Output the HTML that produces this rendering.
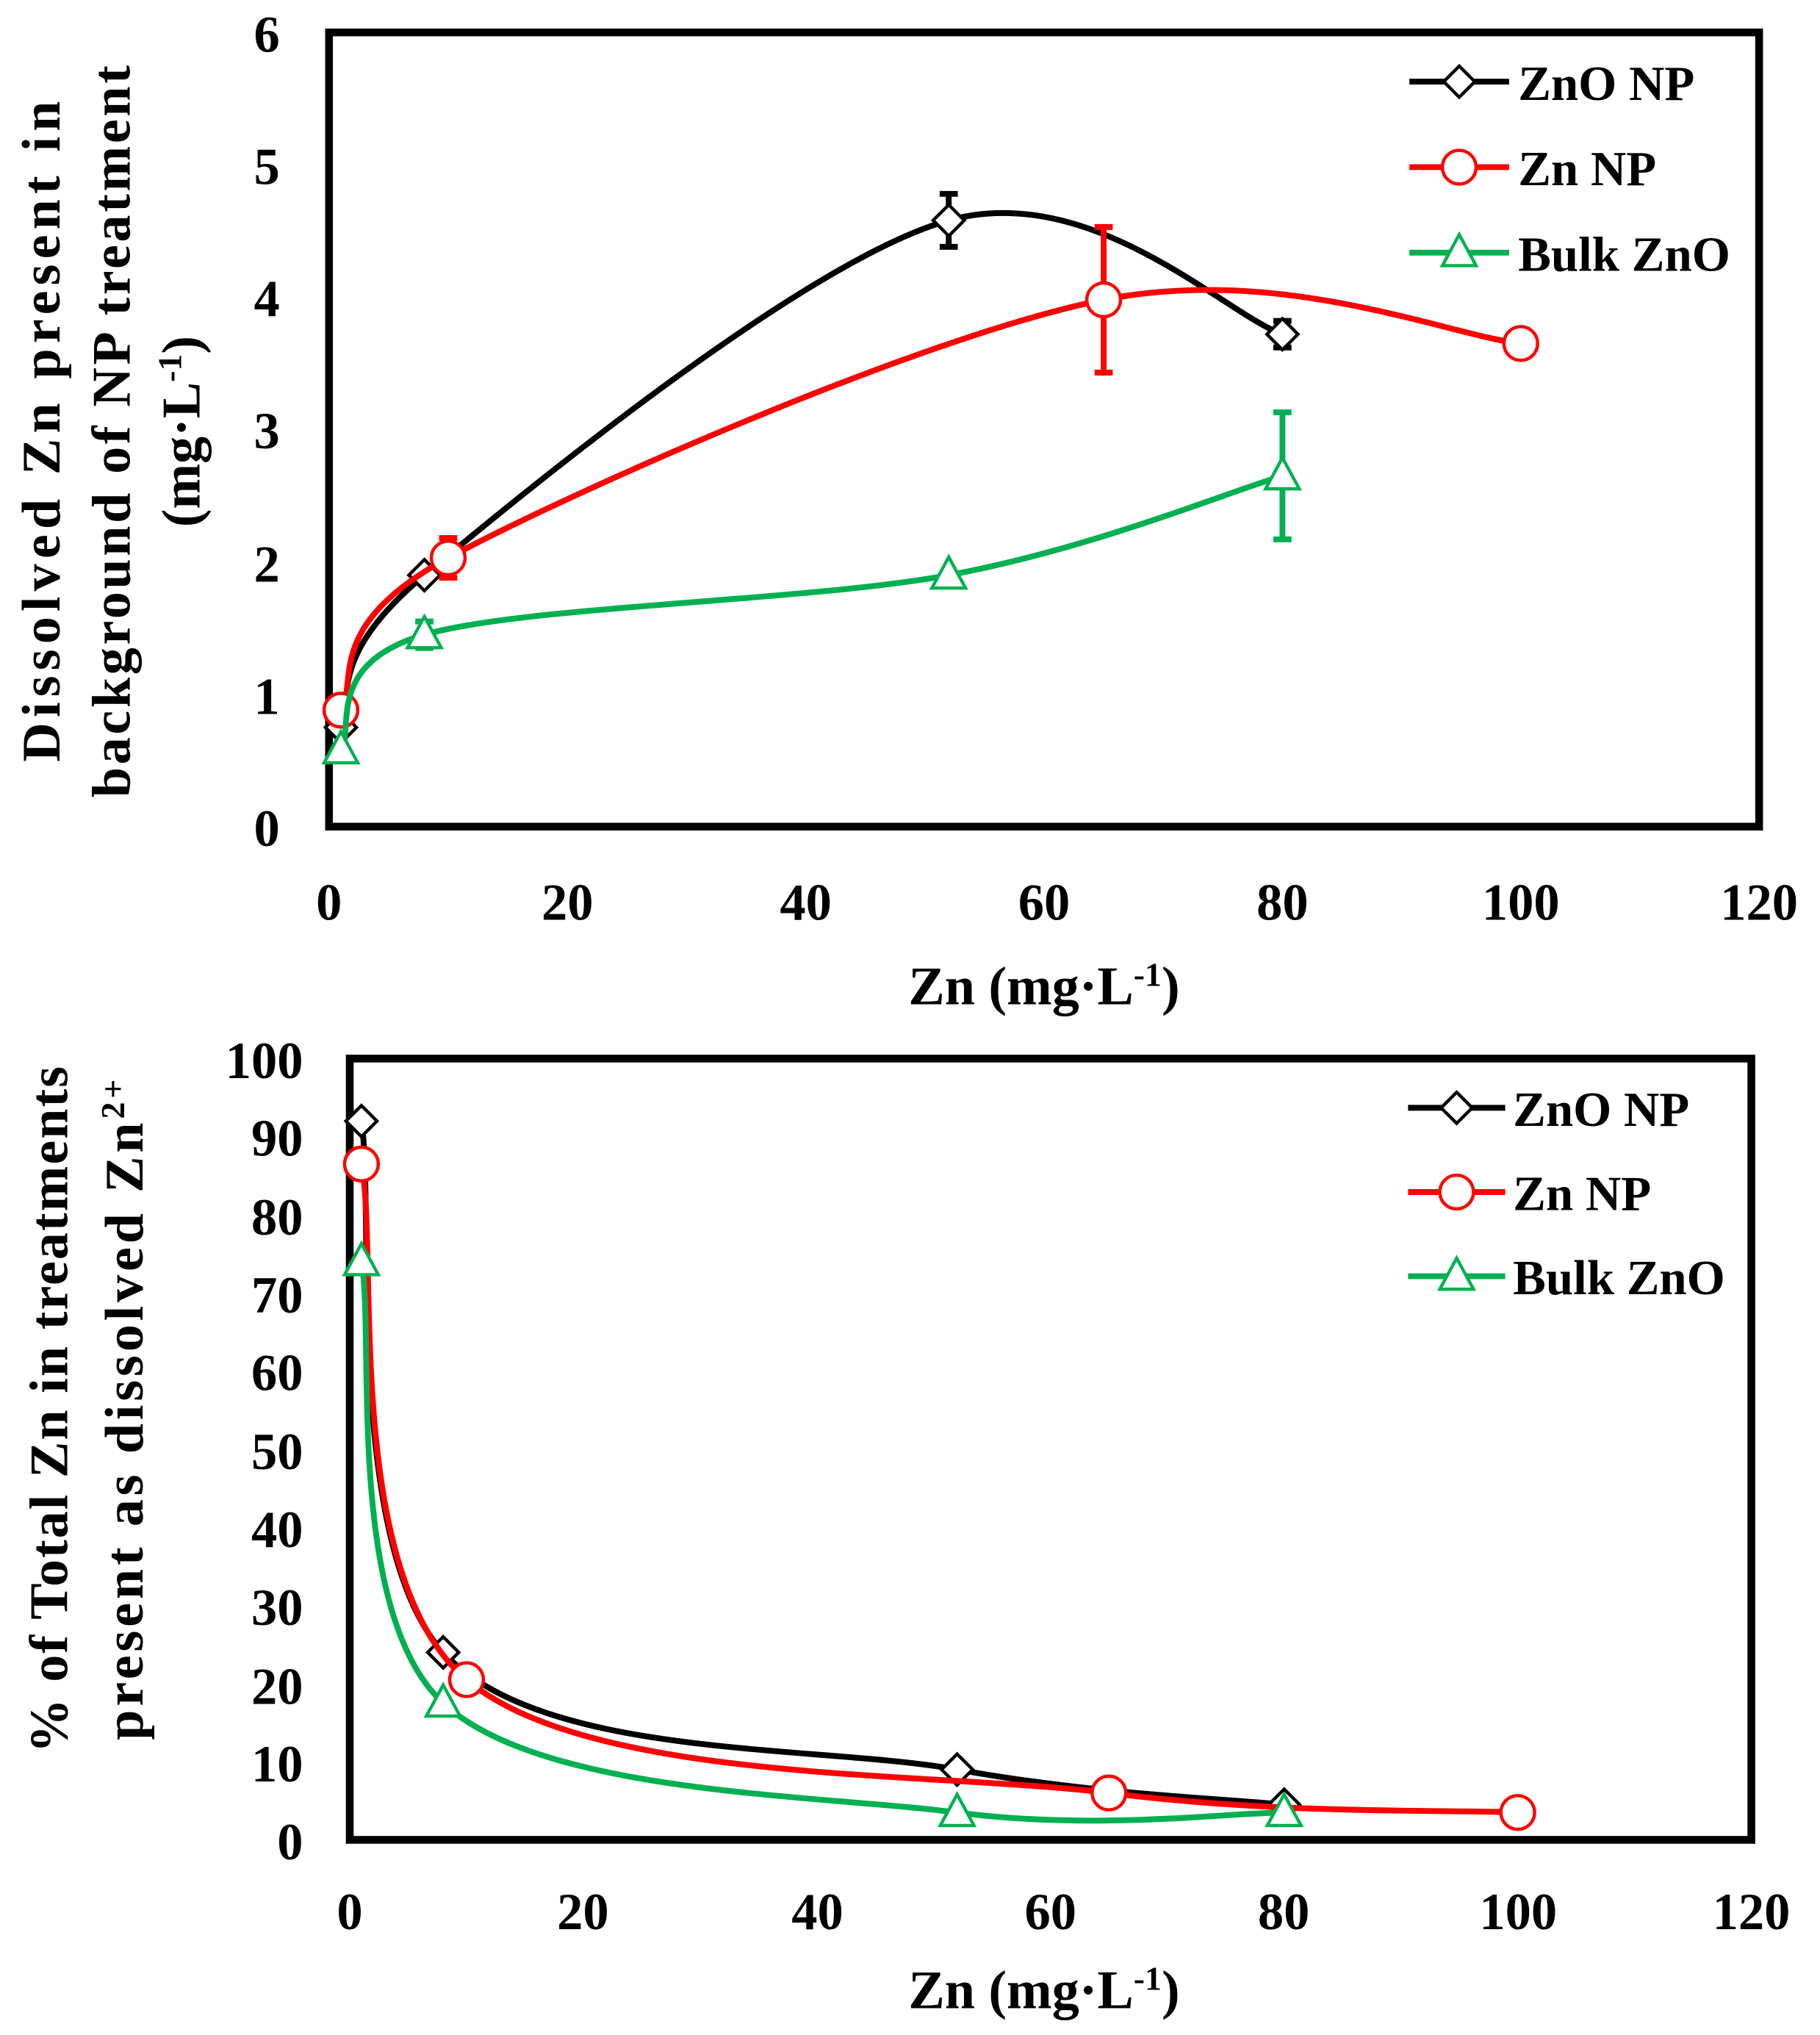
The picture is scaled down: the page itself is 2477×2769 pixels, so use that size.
<!DOCTYPE html>
<html><head><style>
html,body{margin:0;padding:0;background:#fff}
svg{display:block}
text{font-family:"Liberation Serif",serif;font-weight:bold;fill:#000}
</style></head><body>
<svg id="s" width="2477" height="2769" viewBox="0 0 1405 1570.6" xmlns="http://www.w3.org/2000/svg">
<rect x="0" y="0" width="1405" height="1571" fill="#fff"/>
<g id="top"></g><g id="bot"></g>
<g font-size="40" text-anchor="end">
<text x="216" y="653">0</text><text x="216" y="551">1</text><text x="216" y="449">2</text><text x="216" y="346">3</text><text x="216" y="244">4</text><text x="216" y="142">5</text><text x="216" y="40">6</text>
</g>
<g font-size="40" text-anchor="middle">
<text x="254" y="710">0</text><text x="438" y="710">20</text><text x="622" y="710">40</text><text x="806" y="710">60</text><text x="990" y="710">80</text><text x="1174" y="710">100</text><text x="1358" y="710">120</text>
<text x="806" y="775" font-size="42">Zn (mg·L<tspan baseline-shift="super" font-size="26">-1</tspan>)</text>
</g>
<g font-size="42" text-anchor="middle">
<text transform="translate(46,333) rotate(-90)" textLength="510" lengthAdjust="spacing">Dissolved Zn present in</text>
<text transform="translate(100,333) rotate(-90)" textLength="565" lengthAdjust="spacing">background of  NP treatment</text>
<text transform="translate(154,333) rotate(-90)">(mg·L<tspan baseline-shift="super" font-size="26">-1</tspan>)</text>
</g>
<g font-size="38">
<text x="1172" y="77">ZnO NP</text><text x="1172" y="143">Zn NP</text><text x="1172" y="209">Bulk ZnO</text>
<text x="1168" y="869">ZnO NP</text><text x="1168" y="934">Zn NP</text><text x="1168" y="999">Bulk ZnO</text>
</g>
<g font-size="40" text-anchor="end">
<text x="234" y="1435">0</text><text x="234" y="1375">10</text><text x="234" y="1315">20</text><text x="234" y="1254">30</text><text x="234" y="1194">40</text><text x="234" y="1134">50</text><text x="234" y="1073">60</text><text x="234" y="1013">70</text><text x="234" y="953">80</text><text x="234" y="892">90</text><text x="234" y="832">100</text>
</g>
<g font-size="40" text-anchor="middle">
<text x="270" y="1489">0</text><text x="450" y="1489">20</text><text x="631" y="1489">40</text><text x="811" y="1489">60</text><text x="991" y="1489">80</text><text x="1172" y="1489">100</text><text x="1352" y="1489">120</text>
<text x="806" y="1550" font-size="42">Zn (mg·L<tspan baseline-shift="super" font-size="26">-1</tspan>)</text>
</g>
<g font-size="42" text-anchor="middle">
<text transform="translate(52,1088) rotate(-90)" textLength="530" lengthAdjust="spacing">% of Total Zn in treatments</text>
<text transform="translate(110,1088) rotate(-90)" textLength="510" lengthAdjust="spacing">present as dissolved Zn<tspan baseline-shift="super" font-size="26">2+</tspan></text>
</g>
</svg>
<script>
var NS="http://www.w3.org/2000/svg";
function el(p,t,a){var e=document.createElementNS(NS,t);for(var k in a)e.setAttribute(k,a[k]);p.appendChild(e);return e;}
function cr(pts){var d="M"+pts[0][0]+","+pts[0][1];for(var i=0;i<pts.length-1;i++){var p0=pts[i-1]||pts[i],p1=pts[i],p2=pts[i+1],p3=pts[i+2]||p2;var t=1/6;d+=" C"+(p1[0]+(p2[0]-p0[0])*t)+","+(p1[1]+(p2[1]-p0[1])*t)+" "+(p2[0]-(p3[0]-p1[0])*t)+","+(p2[1]-(p3[1]-p1[1])*t)+" "+p2[0]+","+p2[1];}return d;}
function marker(g,type,x,y,col){
 if(type=="d")el(g,"polygon",{points:(x)+","+(y-12)+" "+(x+12)+","+y+" "+x+","+(y+12)+" "+(x-12)+","+y,fill:"#fff",stroke:"#000","stroke-width":2.5});
 else if(type=="c")el(g,"circle",{cx:x,cy:y,r:13,fill:"#fff",stroke:"#f00","stroke-width":2.5});
 else el(g,"polygon",{points:x+","+(y-14)+" "+(x+13)+","+(y+10)+" "+(x-13)+","+(y+10),fill:"#fff",stroke:"#00b050","stroke-width":2.5});
}
function chart(gid,x0,x1,y0,y1,ymax,series,leg){
 var g=document.getElementById(gid);
 var X=function(v){return x0+(x1-x0)*v/120},Y=function(v){return y0-(y0-y1)*v/ymax};
 el(g,"rect",{x:x0,y:y1,width:x1-x0,height:y0-y1,fill:"none",stroke:"#000","stroke-width":6});
 series.forEach(function(s){
  var pts=s.d.map(function(p){return [X(p[0]),Y(p[1])]});
  el(g,"path",{d:cr(pts),fill:"none",stroke:s.c,"stroke-width":4.5});
  s.d.forEach(function(p){if(p[2]){var x=X(p[0]);el(g,"path",{d:"M"+x+","+Y(p[1]-p[2])+"V"+Y(p[1]+p[2])+"M"+(x-7)+","+Y(p[1]-p[2])+"h14M"+(x-7)+","+Y(p[1]+p[2])+"h14",stroke:s.c,"stroke-width":4.5,fill:"none"});}});
  s.d.forEach(function(p){marker(g,s.m,X(p[0]),Y(p[1]),s.c)});
 });
 series.forEach(function(s,i){var y=leg[2]+i*leg[3];el(g,"line",{x1:leg[0],x2:leg[1],y1:y,y2:y,stroke:s.c,"stroke-width":4.5});marker(g,s.m,(leg[0]+leg[1])/2,y,s.c);});
}
chart("top",254,1358,638,25,6,[
 {c:"#000",m:"d",d:[[1,0.75],[8,1.9],[52,4.58,0.2],[80,3.72,0.1]]},
 {c:"#f00",m:"c",d:[[1,0.88],[10,2.03,0.15],[65,3.98,0.55],[100,3.65]]},
 {c:"#00b050",m:"t",d:[[1,0.58],[8,1.45,0.1],[52,1.9],[80,2.65,0.48]]}
],[1088,1165,63,66]);
chart("bot",270,1352,1420,817,100,[
 {c:"#000",m:"d",d:[[1,92],[8,24],[52,9],[80,4.5]]},
 {c:"#f00",m:"c",d:[[1,86.5],[10,20.5],[65,6],[100,3.5]]},
 {c:"#00b050",m:"t",d:[[1,74],[8,17.5],[52,3.5],[80,3.5]]}
],[1087,1162,855,65]);
</script>
</body></html>
